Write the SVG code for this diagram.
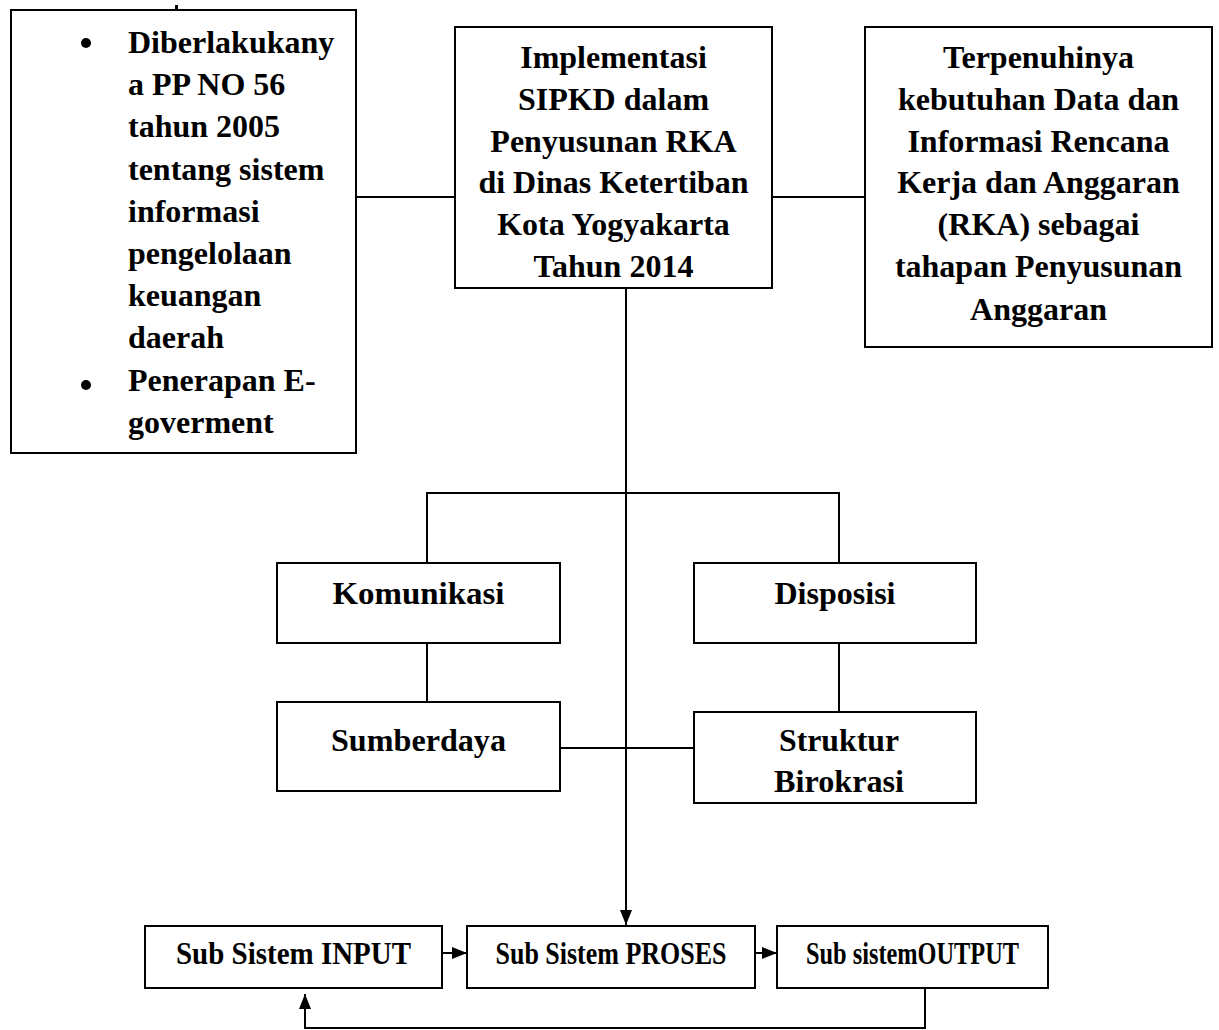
<svg xmlns="http://www.w3.org/2000/svg" width="1219" height="1030" viewBox="0 0 1219 1030">
<style>
.box{fill:#fff;stroke:#000;stroke-width:2}
.ln{fill:none;stroke:#000;stroke-width:2}
.t{font-family:"Liberation Serif","Times New Roman",serif;font-weight:bold;font-size:32px;fill:#000}
.c{text-anchor:middle}
</style>
<defs>
<marker id="arr" markerUnits="userSpaceOnUse" markerWidth="15" markerHeight="12" refX="15" refY="6" orient="auto">
<path d="M0,0 L15,6 L0,12 z" fill="#000"/>
</marker>
<clipPath id="clipL"><rect x="11" y="10" width="345" height="430"/></clipPath>
</defs>

<g id="connectors">
<line class="ln" x1="356" y1="197" x2="455" y2="197"/>
<line class="ln" x1="772" y1="197" x2="865" y2="197"/>
<line class="ln" x1="626" y1="288" x2="626" y2="925" marker-end="url(#arr)"/>
<polyline class="ln" points="427,563 427,493 839,493 839,563"/>
<line class="ln" x1="427" y1="643" x2="427" y2="702"/>
<line class="ln" x1="839" y1="643" x2="839" y2="712"/>
<line class="ln" x1="560" y1="748" x2="694" y2="748"/>
<line class="ln" x1="442" y1="953" x2="467" y2="953" marker-end="url(#arr)"/>
<line class="ln" x1="755" y1="953" x2="777" y2="953" marker-end="url(#arr)"/>
<polyline class="ln" points="925,988 925,1028 305,1028 305,994" marker-end="url(#arr)"/>
</g>

<rect x="175" y="5" width="3" height="5" fill="#000"/>

<g id="node-dasar">
<rect class="box" x="11" y="10" width="345" height="443"/>
<circle cx="86" cy="43" r="5" fill="#000"/>
<circle cx="86" cy="385" r="5" fill="#000"/>
<g clip-path="url(#clipL)">
<text class="t" x="128" y="53">Diberlakukany</text>
<text class="t" x="128" y="95">a PP NO 56</text>
<text class="t" x="128" y="137">tahun 2005</text>
<text class="t" x="128" y="180">tentang sistem</text>
<text class="t" x="128" y="222">informasi</text>
<text class="t" x="128" y="264">pengelolaan</text>
<text class="t" x="128" y="306">keuangan</text>
<text class="t" x="128" y="348">daerah</text>
<text class="t" x="128" y="391">Penerapan E-</text>
<text class="t" x="128" y="433">goverment</text>
</g>
</g>

<g id="node-implementasi">
<rect class="box" x="455" y="27" width="317" height="261"/>
<text class="t c" x="613.5" y="68">Implementasi</text>
<text class="t c" x="613.5" y="110">SIPKD dalam</text>
<text class="t c" x="613.5" y="152">Penyusunan RKA</text>
<text class="t c" x="613.5" y="193">di Dinas Ketertiban</text>
<text class="t c" x="613.5" y="235">Kota Yogyakarta</text>
<text class="t c" x="613.5" y="277">Tahun 2014</text>
</g>

<g id="node-terpenuhi">
<rect class="box" x="865" y="27" width="347" height="320"/>
<text class="t c" x="1038.5" y="68">Terpenuhinya</text>
<text class="t c" x="1038.5" y="110">kebutuhan Data dan</text>
<text class="t c" x="1038.5" y="152">Informasi Rencana</text>
<text class="t c" x="1038.5" y="193">Kerja dan Anggaran</text>
<text class="t c" x="1038.5" y="235">(RKA) sebagai</text>
<text class="t c" x="1038.5" y="277">tahapan Penyusunan</text>
<text class="t c" x="1038.5" y="320">Anggaran</text>
</g>

<g id="node-komunikasi">
<rect class="box" x="277" y="563" width="283" height="80"/>
<text class="t c" x="418.5" y="604" textLength="172" lengthAdjust="spacingAndGlyphs">Komunikasi</text>
</g>

<g id="node-disposisi">
<rect class="box" x="694" y="563" width="282" height="80"/>
<text class="t c" x="835" y="604" textLength="121" lengthAdjust="spacingAndGlyphs">Disposisi</text>
</g>

<g id="node-sumberdaya">
<rect class="box" x="277" y="702" width="283" height="89"/>
<text class="t c" x="418.5" y="751" textLength="175" lengthAdjust="spacingAndGlyphs">Sumberdaya</text>
</g>

<g id="node-struktur">
<rect class="box" x="694" y="712" width="282" height="91"/>
<text class="t c" x="839" y="751" textLength="120" lengthAdjust="spacingAndGlyphs">Struktur</text>
<text class="t c" x="839" y="792" textLength="130" lengthAdjust="spacingAndGlyphs">Birokrasi</text>
</g>

<g id="node-input">
<rect class="box" x="145" y="926" width="297" height="62"/>
<text class="t c" x="293.5" y="964" textLength="235" lengthAdjust="spacingAndGlyphs">Sub Sistem INPUT</text>
</g>

<g id="node-proses">
<rect class="box" x="467" y="926" width="288" height="62"/>
<text class="t c" x="611" y="964" textLength="231" lengthAdjust="spacingAndGlyphs">Sub Sistem PROSES</text>
</g>

<g id="node-output">
<rect class="box" x="777" y="926" width="271" height="62"/>
<text class="t c" x="912.5" y="964" textLength="213" lengthAdjust="spacingAndGlyphs">Sub sistemOUTPUT</text>
</g>
</svg>
